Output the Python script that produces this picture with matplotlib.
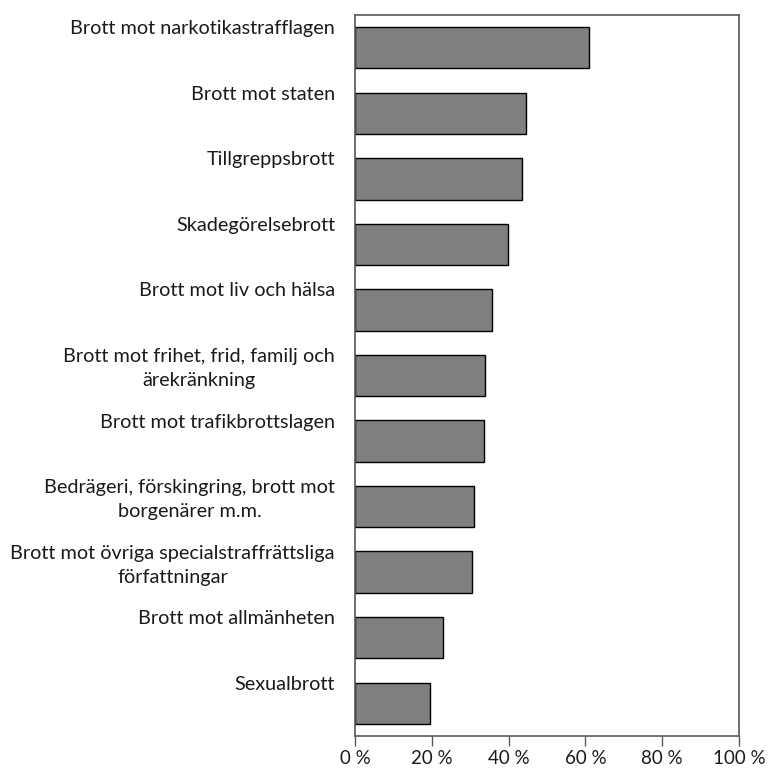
import numpy as np
import matplotlib
matplotlib.use('Agg')
import matplotlib.pyplot as plt
import matplotlib.transforms as mtransforms
from matplotlib.ticker import FuncFormatter

categories = ['Brott mot narkotikastrafflagen',
              'Brott mot staten',
              'Tillgreppsbrott',
              'Skadegörelsebrott',
              'Brott mot liv och hälsa',
              'Brott mot frihet, frid, familj och\närekränkning',
              'Brott mot trafikbrottslagen',
              'Bedrägeri, förskingring, brott mot\nborgenärer m.m.',
              'Brott mot övriga specialstraffrättsliga\nförfattningar',
              'Brott mot allmänheten',
              'Sexualbrott']
values = [60.9, 44.5, 43.4, 39.9, 35.8, 33.8, 33.5, 31.1, 30.5, 22.8, 19.5]
xticks = [0, 20, 40, 60, 80, 100]

plt.rcParams['font.family'] = ['Lato', 'DejaVu Sans']
dpi = 100.0
fig = plt.figure(figsize=(779/dpi, 772/dpi), dpi=dpi)
ax = fig.add_axes([355/779., 1-736/772., 384/779., 721/772.])

y = np.arange(len(categories))
ax.barh(y, values, height=0.63, color='#808080', edgecolor='black', linewidth=1)
ax.set_xlim(0, 100)
ax.set_ylim(len(categories)-0.5, -0.5)
ax.set_xticks(xticks)
ax.xaxis.set_major_formatter(FuncFormatter(lambda v, p: '%d %%' % v))
ax.tick_params(axis='x', direction='out', length=7, width=1, color='#595959',
               labelsize=13.5, labelcolor='#1a1a1a', pad=3)
ax.set_yticks([])
for s in ax.spines.values():
    s.set_color('#595959')
    s.set_linewidth(1.2)

trans = mtransforms.blended_transform_factory(ax.transAxes, ax.transData)
trans = trans + mtransforms.ScaledTranslation(-20/dpi, 0, fig.dpi_scale_trans)
for i, lab in enumerate(categories):
    ax.text(0, i - 0.42, lab, transform=trans, ha='right', va='top',
            multialignment='center', fontsize=14.3, color='#1a1a1a',
            linespacing=1.5)

fig.savefig('out.png', dpi=dpi)
